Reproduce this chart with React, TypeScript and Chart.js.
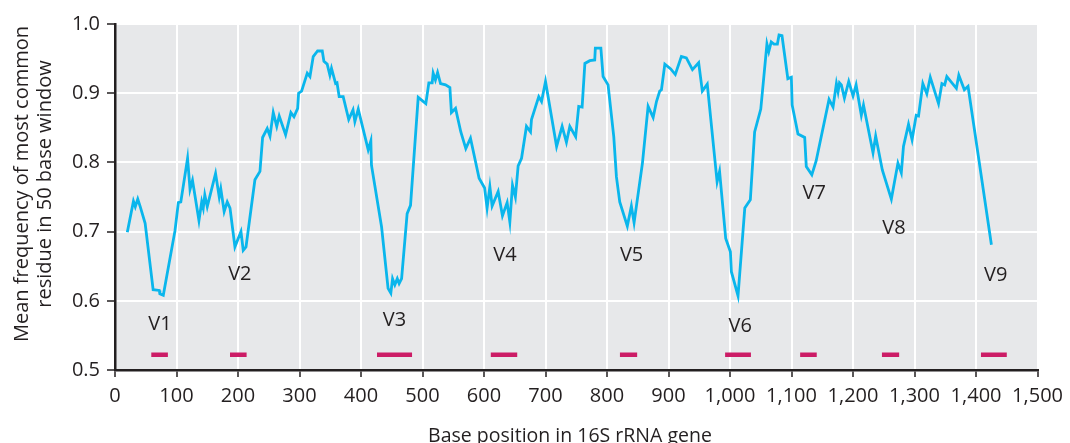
import React, { useEffect, useRef } from "react";
import { Chart, registerables } from "chart.js";

Chart.register(...registerables);

// Base position (x) and mean frequency of the most common residue (y)
const positions = [
  20, 30, 33, 37, 41, 49, 62, 72, 73, 78.5, 97.5, 103, 107, 118, 122, 126, 136.5, 141, 143.5, 146,
  150, 163.5, 169.5, 172, 177.5, 182.5, 187, 195, 204.8, 208.5, 213, 227.5, 235.7, 240, 247.5, 252,
  257.3, 263, 267, 277.4, 286, 291, 297, 298.5, 303.4, 312.6, 317, 322.3, 329.4, 337, 339.7, 345,
  349.4, 352, 358.7, 361, 364.5, 371, 380, 387, 390, 395.5, 411.7, 416, 417, 433.4, 444, 448.5,
  451.3, 455, 459, 462, 466, 475, 480.5, 493, 505.4, 510.3, 515.7, 517.3, 521, 524.5, 529.3, 537.4,
  544.5, 547, 553.7, 562.3, 570.4, 578, 592, 601, 605, 609.5, 613.2, 623, 630, 637.6, 642, 646.3,
  651, 655.5, 661, 669, 675.6, 677.2, 689, 693.5, 700, 718, 727, 734, 739.5, 749, 754, 759.5, 764,
  772, 780, 781, 790, 793.6, 801.7, 811, 815.3, 820.7, 833, 839.6, 844, 857.6, 866.8, 875, 880.4,
  885.7, 888.5, 894, 903.6, 911, 920.9, 929, 938.9, 949, 955, 963, 979, 983, 993, 1000.6, 1002.2,
  1013, 1024, 1033, 1040, 1050, 1060, 1063, 1067, 1071.5, 1077, 1079.7, 1084.5, 1094, 1099.7, 1101,
  1110.5, 1121.4, 1124, 1133, 1140, 1161, 1167.5, 1173, 1175.7, 1178, 1181, 1186, 1193, 1200, 1205,
  1213.5, 1217, 1232.5, 1236.8, 1247.6, 1262.3, 1273, 1278.5, 1282, 1290.2, 1296, 1302.7, 1306.5,
  1313.5, 1320, 1325.6, 1339, 1344.5, 1349, 1352.5, 1368, 1372, 1381, 1387, 1425,
];

const frequency = [
  0.699, 0.744, 0.736, 0.747, 0.736, 0.712, 0.616, 0.615, 0.61, 0.608, 0.701, 0.742, 0.743, 0.806,
  0.761, 0.774, 0.716, 0.743, 0.734, 0.753, 0.736, 0.784, 0.75, 0.762, 0.729, 0.743, 0.734, 0.678,
  0.7, 0.673, 0.678, 0.775, 0.787, 0.836, 0.849, 0.838, 0.872, 0.852, 0.867, 0.84, 0.872, 0.866,
  0.878, 0.9, 0.903, 0.929, 0.924, 0.953, 0.961, 0.961, 0.946, 0.942, 0.926, 0.936, 0.914, 0.915,
  0.895, 0.895, 0.862, 0.876, 0.859, 0.877, 0.818, 0.831, 0.796, 0.707, 0.618, 0.611, 0.632, 0.623,
  0.632, 0.625, 0.632, 0.726, 0.738, 0.894, 0.885, 0.915, 0.915, 0.929, 0.919, 0.93, 0.914, 0.912,
  0.908, 0.872, 0.878, 0.844, 0.82, 0.835, 0.777, 0.763, 0.734, 0.765, 0.737, 0.758, 0.723, 0.742,
  0.714, 0.767, 0.75, 0.795, 0.806, 0.852, 0.844, 0.862, 0.895, 0.888, 0.917, 0.823, 0.852, 0.829,
  0.852, 0.837, 0.881, 0.88, 0.943, 0.947, 0.948, 0.965, 0.965, 0.924, 0.912, 0.837, 0.779, 0.743,
  0.708, 0.737, 0.713, 0.799, 0.881, 0.865, 0.888, 0.903, 0.905, 0.942, 0.935, 0.927, 0.953, 0.951,
  0.934, 0.944, 0.903, 0.913, 0.772, 0.787, 0.69, 0.671, 0.642, 0.607, 0.734, 0.746, 0.844, 0.877,
  0.971, 0.96, 0.974, 0.971, 0.971, 0.984, 0.983, 0.921, 0.923, 0.883, 0.841, 0.836, 0.794, 0.782,
  0.802, 0.891, 0.88, 0.914, 0.902, 0.915, 0.912, 0.893, 0.917, 0.896, 0.912, 0.868, 0.883, 0.814,
  0.838, 0.789, 0.747, 0.799, 0.785, 0.823, 0.855, 0.833, 0.868, 0.867, 0.914, 0.899, 0.923, 0.885,
  0.914, 0.912, 0.924, 0.907, 0.926, 0.905, 0.91, 0.681,
];

// Variable regions V1–V9
const regionNames = ["V1", "V2", "V3", "V4", "V5", "V6", "V7", "V8", "V9"];
const regionStart = [59, 187, 426, 611, 821, 992, 1114, 1247, 1408];
const regionEnd = [86, 214, 483, 654, 849, 1034, 1141, 1275, 1450];
const regionBarLevel = 0.522;
const labelX = [73, 203, 454.5, 634, 840, 1016.6, 1137, 1266.6, 1432];
const labelY = [0.566, 0.639, 0.572, 0.666, 0.666, 0.563, 0.755, 0.705, 0.637];

const xTitle = "Base position in 16S rRNA gene";
const yTitleLines = ["Mean frequency of most common", "residue in 50 base window"];

const FONT = "'Open Sans', 'Noto Sans', sans-serif";
const TEXT = "#231f20";

export default function App() {
  const ref = useRef<HTMLCanvasElement | null>(null);

  useEffect(() => {
    document.body.style.margin = "0";
    const canvas = ref.current;
    if (!canvas) return;

    const lineData = positions.map((x, i) => ({ x, y: frequency[i] }));
    const barData: { x: number; y: number | null }[] = [];
    regionStart.forEach((s, i) => {
      barData.push({ x: s, y: regionBarLevel });
      barData.push({ x: regionEnd[i], y: regionBarLevel });
      barData.push({ x: regionEnd[i] + 1, y: null });
    });

    const bgPlugin = {
      id: "plotBg",
      beforeDraw(chart: any) {
        const { ctx, chartArea } = chart;
        ctx.save();
        ctx.fillStyle = "#e7e8ea";
        ctx.fillRect(chartArea.left, chartArea.top, chartArea.right - chartArea.left, chartArea.bottom - chartArea.top);
        ctx.restore();
      },
    };

    const labelPlugin = {
      id: "regionLabels",
      afterDatasetsDraw(chart: any) {
        const { ctx, scales } = chart;
        ctx.save();
        ctx.fillStyle = TEXT;
        ctx.font = `20px ${FONT}`;
        ctx.textAlign = "center";
        ctx.textBaseline = "middle";
        regionNames.forEach((n, i) => {
          ctx.fillText(n, scales.x.getPixelForValue(labelX[i]), scales.y.getPixelForValue(labelY[i]));
        });
        ctx.restore();
      },
    };

    const titlePlugin = {
      id: "axisTitles",
      afterDraw(chart: any) {
        const { ctx } = chart;
        ctx.save();
        ctx.fillStyle = TEXT;
        ctx.font = `19.5px ${FONT}`;
        ctx.textAlign = "center";
        ctx.textBaseline = "middle";
        ctx.fillText(xTitle, 570, 436);
        ctx.font = `20px ${FONT}`;
        ctx.translate(0, 184);
        ctx.rotate(-Math.PI / 2);
        ctx.fillText(yTitleLines[0], 0, 22);
        ctx.fillText(yTitleLines[1], 0, 45);
        ctx.restore();
      },
    };

    const chart = new Chart(canvas, {
      type: "line",
      data: {
        datasets: [
          {
            data: lineData,
            borderColor: "#0ab6ec",
            borderWidth: 2.8,
            pointRadius: 0,
            tension: 0,
            fill: false,
          },
          {
            data: barData,
            borderColor: "#cc1c66",
            borderWidth: 4.5,
            pointRadius: 0,
            spanGaps: false,
            borderCapStyle: "butt",
          },
        ],
      },
      options: {
        animation: false,
        responsive: false,
        devicePixelRatio: 1,
        layout: { padding: { left: 0, right: 32, top: 24, bottom: 0 } },
        plugins: { legend: { display: false }, tooltip: { enabled: false } },
        scales: {
          x: {
            type: "linear",
            min: 0,
            max: 1500,
            afterFit: (s: any) => {
              s.height = 73;
            },
            ticks: {
              stepSize: 100,
              autoSkip: false,
              maxRotation: 0,
              padding: 7,
              color: TEXT,
              font: { family: FONT, size: 20 },
              callback: (v: any) => Number(v).toLocaleString("en-US"),
            },
            grid: { color: "#ffffff", lineWidth: 2, tickColor: TEXT, tickLength: 7, tickWidth: 1.5 },
            border: { color: TEXT, width: 2.5 },
          },
          y: {
            min: 0.5,
            max: 1.0,
            afterFit: (s: any) => {
              s.width = 115;
            },
            ticks: {
              stepSize: 0.1,
              padding: 7,
              color: TEXT,
              font: { family: FONT, size: 20 },
              callback: (v: any) => Number(v).toFixed(1),
            },
            grid: { color: "#ffffff", lineWidth: 2, tickColor: TEXT, tickLength: 8, tickWidth: 1.5 },
            border: { color: TEXT, width: 2.5 },
          },
        },
      },
      plugins: [bgPlugin, labelPlugin, titlePlugin],
    });

    return () => chart.destroy();
  }, []);

  return <canvas ref={ref} width={1070} height={443} style={{ display: "block" }} />;
}
